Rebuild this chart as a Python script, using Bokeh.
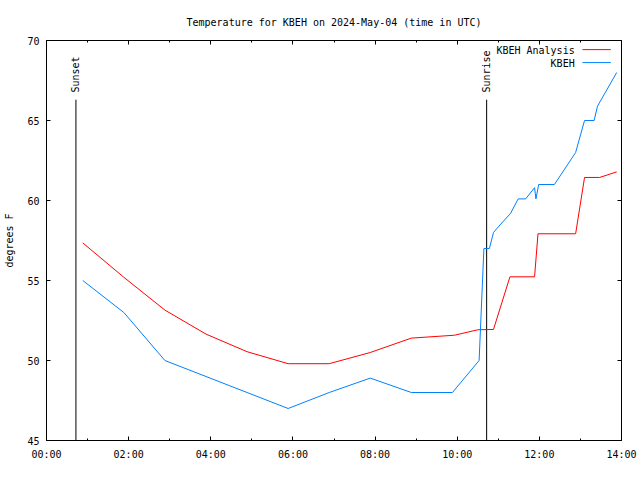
import math
from bokeh.plotting import figure
from bokeh.models import (Range1d, FixedTicker, LinearAxis,
                          CustomJSTickFormatter)
from bokeh.core.properties import value
from bokeh.embed import file_html
from bokeh.resources import INLINE

# ---- data ----
title_text = "Temperature for KBEH on 2024-May-04 (time in UTC)"
y_label = "degrees F"

analysis_name = "KBEH Analysis"
analysis_times = ["00:53", "01:53", "02:53", "03:53", "04:53", "05:53", "06:53",
                  "07:53", "08:53", "09:56", "10:30", "10:53", "11:17", "11:53",
                  "11:58", "12:53", "13:06", "13:28", "13:53"]
analysis_temps = [57.35, 55.2, 53.15, 51.65, 50.55, 49.8, 49.8,
                  50.5, 51.4, 51.58, 51.92, 51.94, 55.23, 55.23,
                  57.92, 57.92, 61.44, 61.44, 61.79]

obs_name = "KBEH"
obs_times = ["00:53", "01:53", "02:53", "03:53", "04:53", "05:53", "06:53",
             "07:53", "08:53", "09:53", "10:32", "10:39", "10:47", "10:53",
             "11:01", "11:18", "11:29", "11:40", "11:53", "11:55", "11:59",
             "12:22", "12:53", "13:06", "13:20", "13:25", "13:53"]
obs_temps = [55.0, 53.0, 50.0, 49.0, 48.0, 47.0, 48.0,
             48.9, 48.0, 48.0, 50.0, 57.0, 57.0, 58.0,
             58.4, 59.2, 60.1, 60.1, 60.8, 60.1, 61.0,
             61.0, 63.0, 65.0, 65.0, 65.9, 68.0]

event_names = ["Sunset", "Sunrise"]
event_times = ["00:43", "10:43"]

x_tick_hours = [0, 2, 4, 6, 8, 10, 12, 14]
x_tick_labels = ["00:00", "02:00", "04:00", "06:00", "08:00", "10:00", "12:00", "14:00"]
x_minor_hours = [1, 3, 5, 7, 9, 11, 13]
y_ticks = [45, 50, 55, 60, 65, 70]

RED = "#ff0000"
BLUE = "#0080ff"
FONT = "DejaVu Sans Mono"
FS = "10px"


def hours(t):
    h, m = t.split(":")
    return int(h) + int(m) / 60.0


ax_h = [hours(t) for t in analysis_times]
ob_h = [hours(t) for t in obs_times]
ev_h = [hours(t) for t in event_times]

p = figure(width=640, height=480, output_backend="svg", toolbar_location=None,
           x_range=Range1d(0, 14), y_range=Range1d(45, 70),
           min_border_left=46, min_border_right=19,
           min_border_top=40, min_border_bottom=40,
           x_axis_type=None, y_axis_type=None)
p.grid.visible = False
p.outline_line_color = "black"
p.outline_line_width = 1
p.background_fill_color = "white"
p.border_fill_color = "white"

p.title.text = title_text
p.title.align = "center"
p.title.text_font = FONT
p.title.text_font_size = FS
p.title.text_font_style = "normal"
p.title.text_color = "black"
p.title.standoff = 25

xt = FixedTicker(ticks=x_tick_hours, minor_ticks=x_minor_hours)
yt = FixedTicker(ticks=y_ticks, minor_ticks=[])
blank = CustomJSTickFormatter(code="return ''")


def style_axis(ax, labels=True):
    ax.axis_line_color = "black"
    ax.major_tick_in = 4
    ax.major_tick_out = 0
    ax.minor_tick_in = 2
    ax.minor_tick_out = 0
    ax.major_tick_line_color = "black"
    ax.minor_tick_line_color = "black"
    ax.major_label_text_font = FONT
    ax.major_label_text_font_size = FS
    ax.major_label_text_color = "black"
    if not labels:
        ax.formatter = blank
        ax.major_label_standoff = 0


xb = LinearAxis(ticker=xt, major_label_overrides=dict(zip(x_tick_hours, x_tick_labels)))
style_axis(xb)
xb.major_label_standoff = 8
p.add_layout(xb, "below")

xa = LinearAxis(ticker=xt)
style_axis(xa, labels=False)
p.add_layout(xa, "above")

yl = LinearAxis(ticker=yt, axis_label=y_label)
style_axis(yl)
yl.major_label_standoff = 7
yl.axis_label_text_font = FONT
yl.axis_label_text_font_size = FS
yl.axis_label_text_font_style = "normal"
yl.axis_label_text_color = "black"
yl.axis_label_standoff = 9
p.add_layout(yl, "left")

yr = LinearAxis(ticker=yt)
style_axis(yr, labels=False)
p.add_layout(yr, "right")

# event lines (sunset / sunrise)
ev_top = 66.3
p.segment(x0=ev_h, y0=[45] * len(ev_h), x1=ev_h, y1=[ev_top] * len(ev_h),
          line_color="black", line_width=1)
p.text(x=ev_h, y=[ev_top + 0.45] * len(ev_h), text=event_names, angle=math.pi / 2,
       text_align="left", text_baseline="middle",
       text_font=value(FONT), text_font_size=value(FS), text_color="black")

# data lines
p.line(ax_h, analysis_temps, line_color=RED, line_width=1)
p.line(ob_h, obs_temps, line_color=BLUE, line_width=1)

# legend in gnuplot style: text right-aligned, then the sample line
leg_names = [analysis_name, obs_name]
leg_colors = [RED, BLUE]
leg_y = [69.37, 68.56]
p.text(x=[12.86] * 2, y=leg_y, text=leg_names, text_align="right",
       text_baseline="middle", text_font=value(FONT), text_font_size=value(FS),
       text_color="black")
p.segment(x0=[13.05] * 2, y0=[y + 0.06 for y in leg_y], x1=[13.74] * 2,
          y1=[y + 0.06 for y in leg_y], line_color=leg_colors, line_width=1)

open("out.html", "w").write(file_html(p, INLINE))
